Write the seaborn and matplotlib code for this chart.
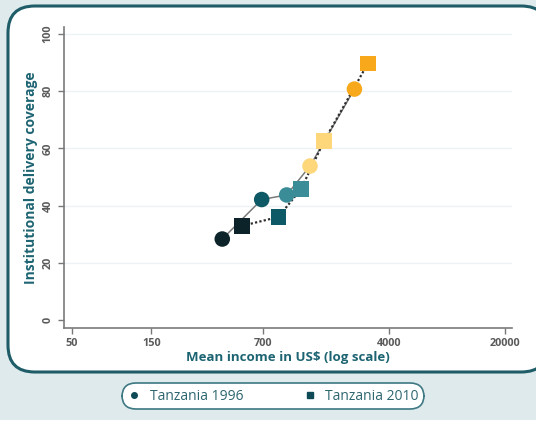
import pandas as pd
import matplotlib
matplotlib.use('Agg')
import matplotlib.pyplot as plt
import seaborn as sns
from matplotlib.patches import FancyBboxPatch, Rectangle
from matplotlib.lines import Line2D
from matplotlib.ticker import FixedLocator, NullLocator

# Data
quintiles = ['Q1', 'Q2', 'Q3', 'Q4', 'Q5']
income_1996 = [400, 690, 975, 1346, 2488]
coverage_1996 = [28.3, 42.1, 43.7, 53.8, 80.7]
income_2010 = [526, 869, 1189, 1634, 2992]
coverage_2010 = [32.9, 36.0, 45.8, 62.5, 89.6]
quintile_colors = ['#0c2429', '#0e5966', '#3a8c97', '#fed77b', '#f7a91b']
x_ticks = [50, 150, 700, 4000, 20000]
y_ticks = [0, 20, 40, 60, 80, 100]

df = pd.concat([
    pd.DataFrame({'income': income_1996, 'coverage': coverage_1996,
                  'quintile': quintiles, 'year': 'Tanzania 1996'}),
    pd.DataFrame({'income': income_2010, 'coverage': coverage_2010,
                  'quintile': quintiles, 'year': 'Tanzania 2010'}),
])

sns.set_style('white')
plt.rcParams['font.family'] = ['Open Sans', 'DejaVu Sans']

teal = '#1d6472'
fig = plt.figure(figsize=(5.36, 4.33), dpi=100)
fig.patch.set_facecolor('white')

# background panels
fig.patches.append(Rectangle((0, 13 / 433), 1, 1, transform=fig.transFigure,
                             facecolor='#deeaec', edgecolor='none', zorder=-3))
fig.patches.append(FancyBboxPatch((8 / 536, 1 - 372 / 433), 540 / 536, 366 / 433,
                                  boxstyle='round,pad=0,rounding_size=0.05',
                                  transform=fig.transFigure, facecolor='white',
                                  edgecolor='#1e5c67', linewidth=2.2, zorder=-2,
                                  mutation_aspect=536 / 433))

ax = fig.add_axes([64 / 536, 1 - 328 / 433, 448 / 536, 301 / 433])
ax.set_facecolor('none')

ax.set_xscale('log')
ax.set_xlim(44.8, 22000)
ax.set_ylim(-2.8, 102.4)

for y in y_ticks[1:]:
    ax.axhline(y, color='#edf3f5', lw=1, zorder=0)

sns.lineplot(data=df[df['year'] == 'Tanzania 1996'], x='income', y='coverage',
             estimator=None, sort=False, color='#7a7a7a', lw=1.1, ax=ax, zorder=1)
sns.lineplot(data=df[df['year'] == 'Tanzania 2010'], x='income', y='coverage',
             estimator=None, sort=False, color='#2e2e2e', lw=1.6,
             linestyle=(0, (1, 1)), ax=ax, zorder=1)
sns.scatterplot(data=df, x='income', y='coverage', hue='quintile', style='year',
                markers={'Tanzania 1996': 'o', 'Tanzania 2010': 's'},
                palette=quintile_colors, s=125, linewidth=0, legend=False,
                ax=ax, zorder=3)

ax.xaxis.set_major_locator(FixedLocator(x_ticks))
ax.xaxis.set_minor_locator(NullLocator())
ax.set_xticklabels([str(t) for t in x_ticks])
ax.set_yticks(y_ticks)
ax.tick_params(axis='both', colors='#777777', labelcolor='#5a5a5a', labelsize=7.8,
               length=4, width=1, direction='out', bottom=True, left=True)
plt.setp(ax.get_yticklabels(), rotation=90, va='center', fontweight='bold')
plt.setp(ax.get_xticklabels(), fontweight='bold')

sns.despine(ax=ax)
for s in ['left', 'bottom']:
    ax.spines[s].set_color('#7a7a7a')
    ax.spines[s].set_linewidth(1.2)

ax.set_xlabel('Mean income in US$ (log scale)', color=teal, fontsize=9.5,
              fontweight='bold', labelpad=1)
ax.set_ylabel('Institutional delivery coverage', color=teal, fontsize=10,
              fontweight='bold', labelpad=3)

handles = [Line2D([], [], marker='o', ls='none', color='#0e4a55', markersize=4),
           Line2D([], [], marker='s', ls='none', color='#0e4a55', markersize=4)]
leg = fig.legend(handles, ['Tanzania 1996', 'Tanzania 2010'], ncol=2,
                 loc='center', bbox_to_anchor=(273 / 536, 1 - 396 / 433),
                 frameon=True, fancybox=True, fontsize=10, handletextpad=0.6,
                 columnspacing=4.3, borderpad=0.3, handlelength=1,
                 borderaxespad=0)
frame = leg.get_frame()
frame.set_edgecolor('#3d7883')
frame.set_linewidth(1.2)
frame.set_facecolor('white')
frame.set_alpha(1)
frame.set_boxstyle('round,pad=0.1,rounding_size=1.0')
for t in leg.get_texts():
    t.set_color('#2e6670')

fig.savefig('out.png', dpi=100)
